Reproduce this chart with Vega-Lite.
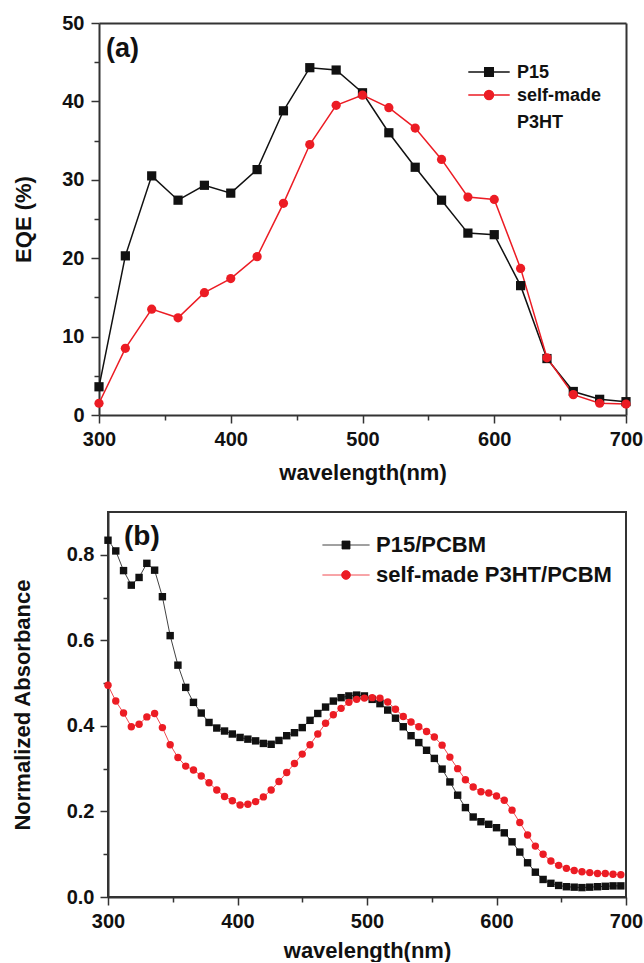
{
  "$schema": "https://vega.github.io/schema/vega-lite/v6.json",
  "padding": {"left": 10, "top": 13, "right": 0, "bottom": 0},
  "spacing": 28,
  "background": "white",
  "resolve": {"scale": {"color": "independent"}, "legend": {"color": "independent"}},
  "config": {
    "font": "Liberation Sans",
    "view": {"stroke": "#333", "strokeWidth": 2},
    "axis": {
      "labelFont": "Liberation Sans", "labelFontSize": 20, "labelFontWeight": "bold", "labelColor": "#111",
      "titleFont": "Liberation Sans", "titleFontSize": 22, "titleFontWeight": "bold", "titleColor": "#111",
      "domainColor": "#333", "domainWidth": 2, "tickColor": "#333", "tickWidth": 1.5,
      "grid": false, "labelFlush": false, "labelOverlap": false
    },
    "title": {"font": "Liberation Sans", "fontWeight": "bold", "color": "#111"}
  },
  "vconcat": [
    {
      "width": 518, "height": 392,
      "view": {"stroke": null},
      "title": {"text": "(a)", "anchor": "start", "frame": "group", "baseline": "top", "offset": -50, "dx": -2, "fontSize": 27},
      "data": {"values": [
        {"wl": 300, "series": "P15", "v": 3.6}, {"wl": 320, "series": "P15", "v": 20.3}, {"wl": 340, "series": "P15", "v": 30.5},
        {"wl": 360, "series": "P15", "v": 27.4}, {"wl": 380, "series": "P15", "v": 29.3}, {"wl": 400, "series": "P15", "v": 28.3},
        {"wl": 420, "series": "P15", "v": 31.3}, {"wl": 440, "series": "P15", "v": 38.8}, {"wl": 460, "series": "P15", "v": 44.3},
        {"wl": 480, "series": "P15", "v": 44.0}, {"wl": 500, "series": "P15", "v": 41.1}, {"wl": 520, "series": "P15", "v": 36.0},
        {"wl": 540, "series": "P15", "v": 31.6}, {"wl": 560, "series": "P15", "v": 27.4}, {"wl": 580, "series": "P15", "v": 23.2},
        {"wl": 600, "series": "P15", "v": 23.0}, {"wl": 620, "series": "P15", "v": 16.5}, {"wl": 640, "series": "P15", "v": 7.2},
        {"wl": 660, "series": "P15", "v": 3.0}, {"wl": 680, "series": "P15", "v": 2.0}, {"wl": 700, "series": "P15", "v": 1.7},
        {"wl": 300, "series": "self-made P3HT", "v": 1.5}, {"wl": 320, "series": "self-made P3HT", "v": 8.5}, {"wl": 340, "series": "self-made P3HT", "v": 13.5},
        {"wl": 360, "series": "self-made P3HT", "v": 12.4}, {"wl": 380, "series": "self-made P3HT", "v": 15.6}, {"wl": 400, "series": "self-made P3HT", "v": 17.4},
        {"wl": 420, "series": "self-made P3HT", "v": 20.2}, {"wl": 440, "series": "self-made P3HT", "v": 27.0}, {"wl": 460, "series": "self-made P3HT", "v": 34.5},
        {"wl": 480, "series": "self-made P3HT", "v": 39.5}, {"wl": 500, "series": "self-made P3HT", "v": 40.8}, {"wl": 520, "series": "self-made P3HT", "v": 39.2},
        {"wl": 540, "series": "self-made P3HT", "v": 36.6}, {"wl": 560, "series": "self-made P3HT", "v": 32.6}, {"wl": 580, "series": "self-made P3HT", "v": 27.8},
        {"wl": 600, "series": "self-made P3HT", "v": 27.5}, {"wl": 620, "series": "self-made P3HT", "v": 18.7}, {"wl": 640, "series": "self-made P3HT", "v": 7.3},
        {"wl": 660, "series": "self-made P3HT", "v": 2.6}, {"wl": 680, "series": "self-made P3HT", "v": 1.5}, {"wl": 700, "series": "self-made P3HT", "v": 1.4}
      ]},
      "encoding": {
        "color": {"field": "series", "type": "nominal",
          "scale": {"domain": ["P15", "self-made P3HT"], "range": ["#111111", "#ec1c24"]},
          "legend": {
            "title": null, "orient": "none", "legendX": 372, "legendY": 40,
            "labelFont": "Liberation Sans", "labelFontSize": 18, "labelFontWeight": "bold", "labelColor": "#111",
            "symbolSize": 81, "symbolStrokeWidth": 1.5, "labelOffset": 19, "rowPadding": 4, "labelBaseline": "alphabetic", "labelLimit": 0,
            "labelExpr": "datum.label === 'self-made P3HT' ? ['self-made', 'P3HT'] : datum.label",
            "encode": {
              "symbols": {"update": {
                "shape": {"signal": "datum.value === 'P15' ? 'M-4.6,0H4.6M-0.95,-0.95H0.95V0.95H-0.95Z' : 'M-4.6,0H4.6M-1,0A1,1 0 1,1 1,0A1,1 0 1,1 -1,0Z'"},
                "fill": {"signal": "datum.value === 'P15' ? '#111111' : '#ec1c24'"},
                "stroke": {"signal": "datum.value === 'P15' ? '#111111' : '#ec1c24'"},
                "strokeWidth": {"value": 1.5},
                "opacity": {"value": 1}
              }},
              "labels": {"update": {"dy": {"value": 6}, "lineHeight": {"value": 27}}}
            }
          }}
      },
      "resolve": {"axis": {"x": "independent", "y": "independent"}},
      "layer": [
        {"mark": {"type": "line", "strokeWidth": 1.5},
          "encoding": {
            "x": {"field": "wl", "type": "quantitative", "scale": {"domain": [300, 700], "nice": false, "range": [-9, 518]},
              "axis": {"orient": "bottom", "title": "wavelength(nm)", "values": [300, 350, 400, 450, 500, 550, 600, 650, 700],
                "labelExpr": "datum.value % 100 === 0 ? datum.label : ''",
                "tickSize": {"condition": {"test": "datum.value % 100 !== 0", "value": 5}, "value": 8},
                "labelPadding": 6, "titlePadding": 13}},
            "y": {"field": "v", "type": "quantitative", "scale": {"domain": [0, 50], "nice": false},
              "axis": {"orient": "left", "offset": 9, "title": "EQE (%)", "values": [0, 5, 10, 15, 20, 25, 30, 35, 40, 45, 50],
                "labelExpr": "datum.value % 10 === 0 ? datum.label : ''",
                "tickSize": {"condition": {"test": "datum.value % 10 !== 0", "value": 5}, "value": 8},
                "labelPadding": 7, "titlePadding": 26}}
          }},
        {"transform": [{"filter": "datum.series === 'P15'"}],
          "mark": {"type": "point", "filled": true, "opacity": 1, "size": 85, "shape": "square"},
          "encoding": {
            "x": {"field": "wl", "type": "quantitative", "scale": {"domain": [300, 700], "nice": false, "range": [-9, 518]},
              "axis": {"orient": "top", "title": null, "labels": false, "ticks": false, "domain": true}},
            "y": {"field": "v", "type": "quantitative", "scale": {"domain": [0, 50], "nice": false},
              "axis": {"orient": "right", "title": null, "labels": false, "ticks": false, "domain": true}}
          }},
        {"transform": [{"filter": "datum.series !== 'P15'"}],
          "mark": {"type": "point", "filled": true, "opacity": 1, "size": 85, "shape": "circle"},
          "encoding": {
            "x": {"field": "wl", "type": "quantitative", "scale": {"domain": [300, 700], "nice": false, "range": [-9, 518]}, "axis": null},
            "y": {"field": "v", "type": "quantitative", "scale": {"domain": [0, 50], "nice": false}, "axis": null}
          }}
      ]
    },
    {
      "width": 518, "height": 385,
      "title": {"text": "(b)", "anchor": "start", "frame": "group", "baseline": "top", "offset": -39, "dx": 16, "fontSize": 28},
      "data": {"values": [
        {"wl": 300, "series": "P15/PCBM", "v": 0.834}, {"wl": 306, "series": "P15/PCBM", "v": 0.809}, {"wl": 312, "series": "P15/PCBM", "v": 0.763},
        {"wl": 318, "series": "P15/PCBM", "v": 0.729}, {"wl": 324, "series": "P15/PCBM", "v": 0.747}, {"wl": 330, "series": "P15/PCBM", "v": 0.780},
        {"wl": 336, "series": "P15/PCBM", "v": 0.764}, {"wl": 342, "series": "P15/PCBM", "v": 0.702}, {"wl": 348, "series": "P15/PCBM", "v": 0.611},
        {"wl": 354, "series": "P15/PCBM", "v": 0.542}, {"wl": 360, "series": "P15/PCBM", "v": 0.490}, {"wl": 366, "series": "P15/PCBM", "v": 0.455},
        {"wl": 372, "series": "P15/PCBM", "v": 0.430}, {"wl": 378, "series": "P15/PCBM", "v": 0.408}, {"wl": 384, "series": "P15/PCBM", "v": 0.395},
        {"wl": 390, "series": "P15/PCBM", "v": 0.388}, {"wl": 396, "series": "P15/PCBM", "v": 0.381}, {"wl": 402, "series": "P15/PCBM", "v": 0.373},
        {"wl": 408, "series": "P15/PCBM", "v": 0.369}, {"wl": 414, "series": "P15/PCBM", "v": 0.365}, {"wl": 420, "series": "P15/PCBM", "v": 0.359},
        {"wl": 426, "series": "P15/PCBM", "v": 0.357}, {"wl": 432, "series": "P15/PCBM", "v": 0.366}, {"wl": 438, "series": "P15/PCBM", "v": 0.377},
        {"wl": 444, "series": "P15/PCBM", "v": 0.384}, {"wl": 450, "series": "P15/PCBM", "v": 0.396}, {"wl": 456, "series": "P15/PCBM", "v": 0.413},
        {"wl": 462, "series": "P15/PCBM", "v": 0.429}, {"wl": 468, "series": "P15/PCBM", "v": 0.444}, {"wl": 474, "series": "P15/PCBM", "v": 0.458},
        {"wl": 480, "series": "P15/PCBM", "v": 0.466}, {"wl": 486, "series": "P15/PCBM", "v": 0.470}, {"wl": 492, "series": "P15/PCBM", "v": 0.472},
        {"wl": 498, "series": "P15/PCBM", "v": 0.470}, {"wl": 504, "series": "P15/PCBM", "v": 0.462}, {"wl": 510, "series": "P15/PCBM", "v": 0.452},
        {"wl": 516, "series": "P15/PCBM", "v": 0.437}, {"wl": 522, "series": "P15/PCBM", "v": 0.418}, {"wl": 528, "series": "P15/PCBM", "v": 0.398},
        {"wl": 534, "series": "P15/PCBM", "v": 0.377}, {"wl": 540, "series": "P15/PCBM", "v": 0.361}, {"wl": 546, "series": "P15/PCBM", "v": 0.343},
        {"wl": 552, "series": "P15/PCBM", "v": 0.324}, {"wl": 558, "series": "P15/PCBM", "v": 0.299}, {"wl": 564, "series": "P15/PCBM", "v": 0.269},
        {"wl": 570, "series": "P15/PCBM", "v": 0.238}, {"wl": 576, "series": "P15/PCBM", "v": 0.209}, {"wl": 582, "series": "P15/PCBM", "v": 0.187},
        {"wl": 588, "series": "P15/PCBM", "v": 0.176}, {"wl": 594, "series": "P15/PCBM", "v": 0.170}, {"wl": 600, "series": "P15/PCBM", "v": 0.162},
        {"wl": 606, "series": "P15/PCBM", "v": 0.150}, {"wl": 612, "series": "P15/PCBM", "v": 0.129}, {"wl": 618, "series": "P15/PCBM", "v": 0.105},
        {"wl": 624, "series": "P15/PCBM", "v": 0.080}, {"wl": 630, "series": "P15/PCBM", "v": 0.058}, {"wl": 636, "series": "P15/PCBM", "v": 0.041},
        {"wl": 642, "series": "P15/PCBM", "v": 0.032}, {"wl": 648, "series": "P15/PCBM", "v": 0.027}, {"wl": 654, "series": "P15/PCBM", "v": 0.024},
        {"wl": 660, "series": "P15/PCBM", "v": 0.023}, {"wl": 666, "series": "P15/PCBM", "v": 0.022}, {"wl": 672, "series": "P15/PCBM", "v": 0.023},
        {"wl": 678, "series": "P15/PCBM", "v": 0.024}, {"wl": 684, "series": "P15/PCBM", "v": 0.025}, {"wl": 690, "series": "P15/PCBM", "v": 0.026},
        {"wl": 696, "series": "P15/PCBM", "v": 0.026},
        {"wl": 300, "series": "self-made P3HT/PCBM", "v": 0.495}, {"wl": 306, "series": "self-made P3HT/PCBM", "v": 0.458}, {"wl": 312, "series": "self-made P3HT/PCBM", "v": 0.430},
        {"wl": 318, "series": "self-made P3HT/PCBM", "v": 0.398}, {"wl": 324, "series": "self-made P3HT/PCBM", "v": 0.404}, {"wl": 330, "series": "self-made P3HT/PCBM", "v": 0.421},
        {"wl": 336, "series": "self-made P3HT/PCBM", "v": 0.429}, {"wl": 342, "series": "self-made P3HT/PCBM", "v": 0.396}, {"wl": 348, "series": "self-made P3HT/PCBM", "v": 0.356},
        {"wl": 354, "series": "self-made P3HT/PCBM", "v": 0.326}, {"wl": 360, "series": "self-made P3HT/PCBM", "v": 0.306}, {"wl": 366, "series": "self-made P3HT/PCBM", "v": 0.297},
        {"wl": 372, "series": "self-made P3HT/PCBM", "v": 0.283}, {"wl": 378, "series": "self-made P3HT/PCBM", "v": 0.267}, {"wl": 384, "series": "self-made P3HT/PCBM", "v": 0.250},
        {"wl": 390, "series": "self-made P3HT/PCBM", "v": 0.235}, {"wl": 396, "series": "self-made P3HT/PCBM", "v": 0.225}, {"wl": 402, "series": "self-made P3HT/PCBM", "v": 0.215},
        {"wl": 408, "series": "self-made P3HT/PCBM", "v": 0.217}, {"wl": 414, "series": "self-made P3HT/PCBM", "v": 0.223}, {"wl": 420, "series": "self-made P3HT/PCBM", "v": 0.234},
        {"wl": 426, "series": "self-made P3HT/PCBM", "v": 0.250}, {"wl": 432, "series": "self-made P3HT/PCBM", "v": 0.270}, {"wl": 438, "series": "self-made P3HT/PCBM", "v": 0.291},
        {"wl": 444, "series": "self-made P3HT/PCBM", "v": 0.312}, {"wl": 450, "series": "self-made P3HT/PCBM", "v": 0.334}, {"wl": 456, "series": "self-made P3HT/PCBM", "v": 0.356},
        {"wl": 462, "series": "self-made P3HT/PCBM", "v": 0.381}, {"wl": 468, "series": "self-made P3HT/PCBM", "v": 0.406}, {"wl": 474, "series": "self-made P3HT/PCBM", "v": 0.426},
        {"wl": 480, "series": "self-made P3HT/PCBM", "v": 0.441}, {"wl": 486, "series": "self-made P3HT/PCBM", "v": 0.455}, {"wl": 492, "series": "self-made P3HT/PCBM", "v": 0.462},
        {"wl": 498, "series": "self-made P3HT/PCBM", "v": 0.465}, {"wl": 504, "series": "self-made P3HT/PCBM", "v": 0.466}, {"wl": 510, "series": "self-made P3HT/PCBM", "v": 0.465},
        {"wl": 516, "series": "self-made P3HT/PCBM", "v": 0.456}, {"wl": 522, "series": "self-made P3HT/PCBM", "v": 0.439}, {"wl": 528, "series": "self-made P3HT/PCBM", "v": 0.422},
        {"wl": 534, "series": "self-made P3HT/PCBM", "v": 0.409}, {"wl": 540, "series": "self-made P3HT/PCBM", "v": 0.398}, {"wl": 546, "series": "self-made P3HT/PCBM", "v": 0.387},
        {"wl": 552, "series": "self-made P3HT/PCBM", "v": 0.374}, {"wl": 558, "series": "self-made P3HT/PCBM", "v": 0.355}, {"wl": 564, "series": "self-made P3HT/PCBM", "v": 0.327},
        {"wl": 570, "series": "self-made P3HT/PCBM", "v": 0.300}, {"wl": 576, "series": "self-made P3HT/PCBM", "v": 0.274}, {"wl": 582, "series": "self-made P3HT/PCBM", "v": 0.257},
        {"wl": 588, "series": "self-made P3HT/PCBM", "v": 0.246}, {"wl": 594, "series": "self-made P3HT/PCBM", "v": 0.243}, {"wl": 600, "series": "self-made P3HT/PCBM", "v": 0.236},
        {"wl": 606, "series": "self-made P3HT/PCBM", "v": 0.226}, {"wl": 612, "series": "self-made P3HT/PCBM", "v": 0.203}, {"wl": 618, "series": "self-made P3HT/PCBM", "v": 0.174},
        {"wl": 624, "series": "self-made P3HT/PCBM", "v": 0.145}, {"wl": 630, "series": "self-made P3HT/PCBM", "v": 0.119}, {"wl": 636, "series": "self-made P3HT/PCBM", "v": 0.100},
        {"wl": 642, "series": "self-made P3HT/PCBM", "v": 0.084}, {"wl": 648, "series": "self-made P3HT/PCBM", "v": 0.074}, {"wl": 654, "series": "self-made P3HT/PCBM", "v": 0.067},
        {"wl": 660, "series": "self-made P3HT/PCBM", "v": 0.062}, {"wl": 666, "series": "self-made P3HT/PCBM", "v": 0.059}, {"wl": 672, "series": "self-made P3HT/PCBM", "v": 0.057},
        {"wl": 678, "series": "self-made P3HT/PCBM", "v": 0.055}, {"wl": 684, "series": "self-made P3HT/PCBM", "v": 0.055}, {"wl": 690, "series": "self-made P3HT/PCBM", "v": 0.053},
        {"wl": 696, "series": "self-made P3HT/PCBM", "v": 0.052}
      ]},
      "encoding": {
        "x": {"field": "wl", "type": "quantitative", "scale": {"domain": [300, 700], "nice": false},
          "axis": {"title": "wavelength(nm)", "values": [300, 350, 400, 450, 500, 550, 600, 650, 700],
            "labelExpr": "datum.value % 100 === 0 ? datum.label : ''",
            "tickSize": {"condition": {"test": "datum.value % 100 !== 0", "value": 5}, "value": 8},
            "labelPadding": 6, "titlePadding": 9}},
        "y": {"field": "v", "type": "quantitative", "scale": {"domain": [0, 0.9], "nice": false},
          "axis": {"title": "Normalized Absorbance", "values": [0, 0.1, 0.2, 0.3, 0.4, 0.5, 0.6, 0.7, 0.8],
            "labelExpr": "round(datum.value * 10) % 2 === 0 ? format(datum.value, '.1f') : ''",
            "tickSize": {"condition": {"test": "round(datum.value * 10) % 2 !== 0", "value": 5}, "value": 8},
            "labelPadding": 6, "titlePadding": 32}},
        "color": {"field": "series", "type": "nominal",
          "scale": {"domain": ["P15/PCBM", "self-made P3HT/PCBM"], "range": ["#111111", "#ec1c24"]},
          "legend": {
            "title": null, "orient": "none", "legendX": 227, "legendY": 22,
            "labelFont": "Liberation Sans", "labelFontSize": 22, "labelFontWeight": "bold", "labelColor": "#111",
            "symbolSize": 64, "symbolStrokeWidth": 0.8, "labelOffset": 19, "rowPadding": 8, "labelLimit": 0,
            "encode": {
              "symbols": {"update": {
                "shape": {"signal": "datum.value === 'P15/PCBM' ? 'M-5.9,0H5.9M-1,-1H1V1H-1Z' : 'M-5.9,0H5.9M-1.1,0A1.1,1.1 0 1,1 1.1,0A1.1,1.1 0 1,1 -1.1,0Z'"},
                "fill": {"signal": "datum.value === 'P15/PCBM' ? '#111111' : '#ec1c24'"},
                "stroke": {"signal": "datum.value === 'P15/PCBM' ? '#111111' : '#ec1c24'"},
                "strokeWidth": {"value": 0.8},
                "opacity": {"value": 1}
              }}
            }
          }}
      },
      "layer": [
        {"mark": {"type": "line", "strokeWidth": 0.8}},
        {"transform": [{"filter": "datum.series === 'P15/PCBM'"}],
          "mark": {"type": "point", "filled": true, "opacity": 1, "size": 55, "shape": "square"}},
        {"transform": [{"filter": "datum.series !== 'P15/PCBM'"}],
          "mark": {"type": "point", "filled": true, "opacity": 1, "size": 55, "shape": "circle"}}
      ]
    }
  ]
}
